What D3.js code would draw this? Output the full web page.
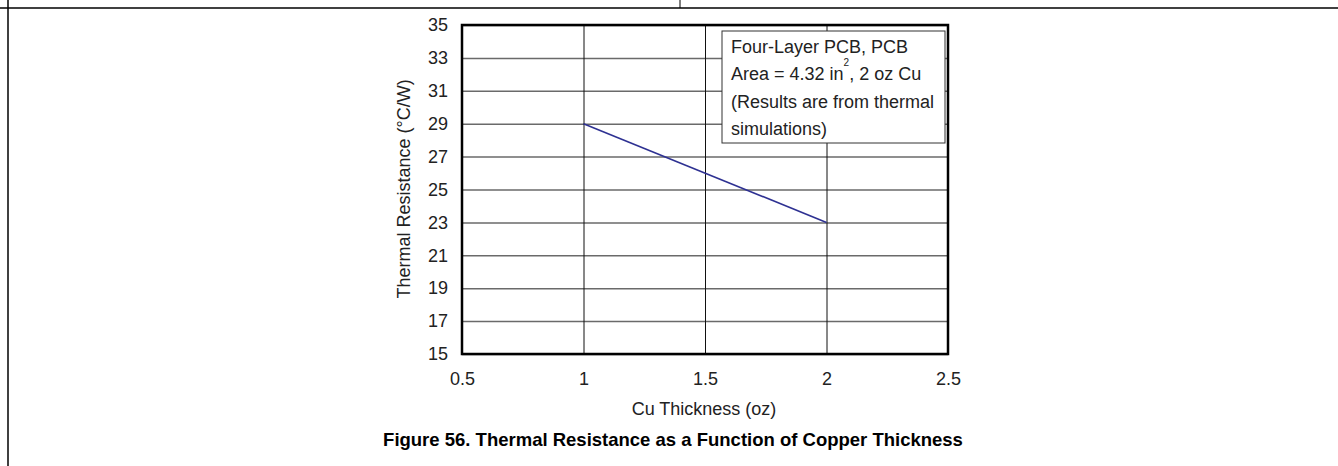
<!DOCTYPE html>
<html>
<head>
<meta charset="utf-8">
<script src="https://cdn.jsdelivr.net/npm/d3@7"></script>
<style>
  html, body { margin: 0; padding: 0; background: #fff; }
  svg { display: block; font-family: "Liberation Sans", Arial, sans-serif; }
</style>
</head>
<body>
<svg id="chart" width="1338" height="466"></svg>
<script>
// Copper thickness (oz) vs. thermal resistance (°C/W)
const thickness = [1, 2];
const resistance = [29, 23];
const xTicks = [0.5, 1, 1.5, 2, 2.5];
const yTicks = [15, 17, 19, 21, 23, 25, 27, 29, 31, 33, 35];
const noteLines = ["Four-Layer PCB, PCB", "Area = 4.32 in", "(Results are from thermal", "simulations)"];

const FONT = "Liberation Sans, Arial, sans-serif";
const svg = d3.select("#chart");

// Page frame lines
svg.append("line").attr("x1", 0).attr("x2", 1338).attr("y1", 8).attr("y2", 8)
  .attr("stroke", "#000").attr("stroke-width", 1.5);
svg.append("line").attr("x1", 8).attr("x2", 8).attr("y1", 0).attr("y2", 466)
  .attr("stroke", "#000").attr("stroke-width", 1.5);
svg.append("line").attr("x1", 680).attr("x2", 680).attr("y1", 0).attr("y2", 8)
  .attr("stroke", "#000").attr("stroke-width", 1);

const plot = { left: 462, top: 25, right: 948, bottom: 354 };
const x = d3.scaleLinear().domain([0.5, 2.5]).range([plot.left, plot.right]);
const y = d3.scaleLinear().domain([15, 35]).range([plot.bottom, plot.top]);

// Horizontal grid
svg.append("g")
  .attr("transform", `translate(${plot.left},0)`)
  .call(d3.axisLeft(y).tickValues(yTicks).tickSize(-(plot.right - plot.left)).tickFormat(""))
  .call(g => g.select(".domain").remove())
  .call(g => g.selectAll("line").attr("stroke", "#6a6a6a").attr("stroke-width", 1.5));

// Vertical grid
svg.append("g")
  .attr("transform", `translate(0,${plot.bottom})`)
  .call(d3.axisBottom(x).tickValues(xTicks).tickSize(-(plot.bottom - plot.top)).tickFormat(""))
  .call(g => g.select(".domain").remove())
  .call(g => g.selectAll("line").attr("stroke", "#111").attr("stroke-width", 1));

// Y tick labels
svg.append("g")
  .attr("transform", `translate(${plot.left},0)`)
  .call(d3.axisLeft(y).tickValues(yTicks).tickSize(0).tickPadding(14).tickFormat(d3.format("d")))
  .attr("font-size", 18).attr("font-family", FONT)
  .call(g => g.select(".domain").remove())
  .call(g => g.selectAll("text").attr("fill", "#222"));

// X tick labels
svg.append("g")
  .attr("transform", `translate(0,${plot.bottom})`)
  .call(d3.axisBottom(x).tickValues(xTicks).tickSize(0).tickPadding(18).tickFormat(d => String(d)))
  .attr("font-size", 18).attr("font-family", FONT)
  .call(g => g.select(".domain").remove())
  .call(g => g.selectAll("text").attr("fill", "#222"));

// Data line
svg.append("path")
  .datum(thickness.map((t, i) => [t, resistance[i]]))
  .attr("fill", "none")
  .attr("stroke", "#2e3192")
  .attr("stroke-width", 1.6)
  .attr("d", d3.line().x(d => x(d[0])).y(d => y(d[1])));

// Plot frame
svg.append("rect")
  .attr("x", plot.left).attr("y", plot.top)
  .attr("width", plot.right - plot.left).attr("height", plot.bottom - plot.top)
  .attr("fill", "none").attr("stroke", "#000").attr("stroke-width", 2.5);

// Note box
const note = svg.append("g");
note.append("rect")
  .attr("x", 722).attr("y", 31).attr("width", 223).attr("height", 112)
  .attr("fill", "#fff").attr("stroke", "#333").attr("stroke-width", 1);
const baselines = [53, 80, 107.5, 134.5];
noteLines.forEach((s, i) => {
  const t = note.append("text")
    .attr("x", 731).attr("y", baselines[i])
    .attr("font-size", 18).attr("fill", "#222")
    .text(s);
  if (i === 1) {
    t.append("tspan").attr("dy", -14).attr("font-size", 10).text("2");
    t.append("tspan").attr("dy", 14).text(", 2 oz Cu");
  }
});

// Axis titles
svg.append("text")
  .attr("x", 704).attr("y", 415)
  .attr("text-anchor", "middle").attr("font-size", 18).attr("fill", "#222")
  .text("Cu Thickness (oz)");
svg.append("text")
  .attr("transform", `translate(410,189) rotate(-90)`)
  .attr("text-anchor", "middle").attr("font-size", 18).attr("fill", "#222")
  .text("Thermal Resistance (°C/W)");

// Caption
svg.append("text")
  .attr("x", 673).attr("y", 446)
  .attr("text-anchor", "middle").attr("font-size", 18.5).attr("font-weight", "bold").attr("fill", "#000")
  .text("Figure 56. Thermal Resistance as a Function of Copper Thickness");
</script>
</body>
</html>
